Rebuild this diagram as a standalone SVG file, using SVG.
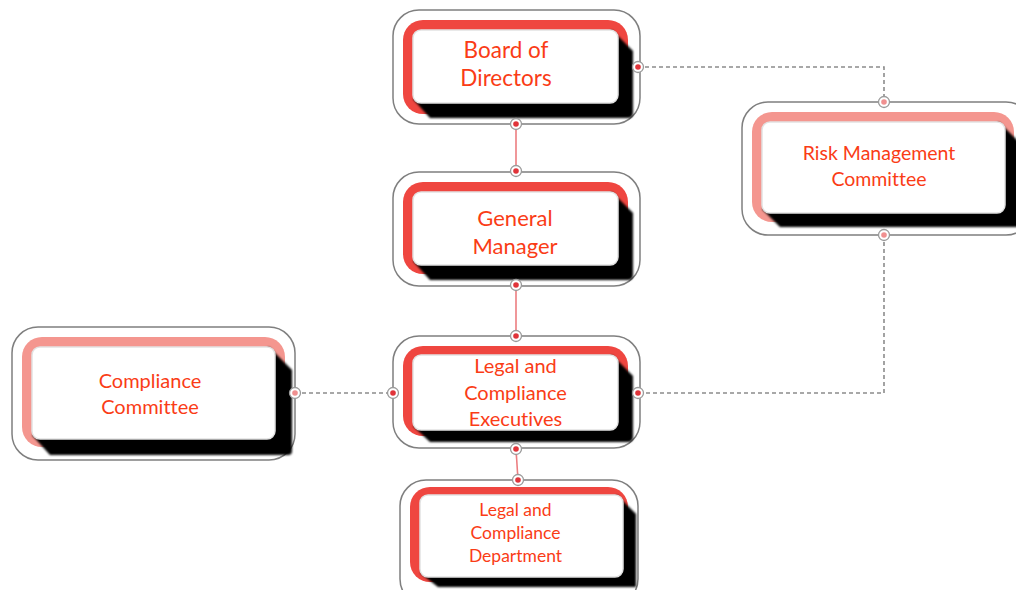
<svg xmlns="http://www.w3.org/2000/svg" width="1016" height="590" viewBox="0 0 1016 590">
<style>
.outer{fill:#fff;stroke:#7f7f7f;stroke-width:1.5}
.red{fill:#EF4640}
.pale{fill:#F4968F}
.shadow{fill:#000;filter:url(#soft)}
.inner{fill:#fff;stroke:#e2e2e2;stroke-width:1.5}
.t{font-family:Lato,"Liberation Sans",sans-serif;fill:#FA3C16;text-anchor:middle;font-variant-ligatures:none;font-feature-settings:"liga" 0,"clig" 0}
.solid{stroke:#EC7D80;stroke-width:1.6;fill:none}
.dash{stroke:#8c8c8c;stroke-width:1.6;fill:none;stroke-dasharray:4 3}
.dot{fill:#fff;stroke:#9a9a9a;stroke-width:1.3}
.dr{fill:#E0343A}
.dp{fill:#F09090}
</style>
<defs>
<filter id="soft" x="-5%" y="-5%" width="110%" height="110%"><feGaussianBlur stdDeviation="1.2"/></filter>
</defs>
<g id="connectors">
<line class="solid" x1="516" y1="124" x2="516" y2="171"/>
<line class="solid" x1="516" y1="285" x2="516" y2="336"/>
<line class="solid" x1="516" y1="449" x2="518" y2="480"/>
<polyline class="dash" points="638,67 884,67 884,102"/>
<polyline class="dash" points="884,235 884,393 638,393"/>
<line class="dash" x1="295" y1="393" x2="393" y2="393"/>
</g>
<g id="board">
<rect class="outer" x="393" y="10" width="247" height="114" rx="26"/>
<rect class="red" x="403" y="20" width="225" height="94" rx="20"/>
<path class="shadow" d="M612,30 L633,51 L633,113 Q633,118 628,118 L430,118 L413,99 Z"/>
<rect class="inner" x="413" y="30" width="205" height="73" rx="8"/>
<text class="t" font-size="22.5"><tspan x="506" y="58">Board of</tspan><tspan x="506" y="86">Directors</tspan></text>
</g>
<g id="gm">
<rect class="outer" x="393" y="172" width="247" height="114" rx="26"/>
<rect class="red" x="403" y="182" width="225" height="92" rx="20"/>
<path class="shadow" d="M612,192 L633,213 L633,275 Q633,280 628,280 L430,280 L413,261 Z"/>
<rect class="inner" x="413" y="192" width="205" height="73" rx="8"/>
<text class="t" font-size="22"><tspan x="515" y="226">General</tspan><tspan x="515" y="254">Manager</tspan></text>
</g>
<g id="lce">
<rect class="outer" x="393" y="336" width="247" height="112" rx="26"/>
<rect class="red" x="403" y="346" width="225" height="90" rx="20"/>
<path class="shadow" d="M612,355 L633,376 L633,437 Q633,442 628,442 L430,442 L413,426 Z"/>
<rect class="inner" x="413" y="355" width="205" height="75" rx="8"/>
<text class="t" font-size="20"><tspan x="515.5" y="373">Legal and</tspan><tspan x="515.5" y="400">Compliance</tspan><tspan x="515.5" y="426">Executives</tspan></text>
</g>
<g id="dept">
<rect class="outer" x="400" y="480" width="238" height="125" rx="26"/>
<rect class="red" x="410" y="487" width="218" height="95" rx="20"/>
<path class="shadow" d="M617,495 L636,514 L636,587 L438,587 L420,573 Z"/>
<rect class="inner" x="420" y="495" width="203" height="82" rx="8"/>
<text class="t" font-size="17.5"><tspan x="515.5" y="516">Legal and</tspan><tspan x="515.5" y="539">Compliance</tspan><tspan x="515.5" y="562">Department</tspan></text>
</g>
<g id="risk">
<rect class="outer" x="742" y="102" width="290" height="133" rx="26"/>
<rect class="pale" x="752" y="112" width="262" height="110" rx="20"/>
<path class="shadow" d="M999,122 L1020,143 L1020,227 L780,227 L762,209 Z"/>
<rect class="inner" x="762" y="122" width="243" height="91" rx="8"/>
<text class="t" font-size="19.5"><tspan x="879" y="160">Risk Management</tspan><tspan x="879" y="186">Committee</tspan></text>
</g>
<g id="cc">
<rect class="outer" x="12" y="327" width="283" height="133" rx="26"/>
<rect class="pale" x="22" y="337" width="263" height="110" rx="20"/>
<path class="shadow" d="M269,347 L292,370 L292,451 Q292,455 288,455 L50,455 L32,435 Z"/>
<rect class="inner" x="32" y="347" width="243" height="92" rx="8"/>
<text class="t" font-size="20"><tspan x="150" y="388">Compliance</tspan><tspan x="150" y="414">Committee</tspan></text>
</g>
<g id="ports">
<circle class="dot" cx="516" cy="124" r="5.5"/><circle class="dr" cx="516" cy="124" r="2.8"/>
<circle class="dot" cx="638" cy="67" r="5.5"/><circle class="dr" cx="638" cy="67" r="2.8"/>
<circle class="dot" cx="516" cy="171" r="5.5"/><circle class="dr" cx="516" cy="171" r="2.8"/>
<circle class="dot" cx="516" cy="285" r="5.5"/><circle class="dr" cx="516" cy="285" r="2.8"/>
<circle class="dot" cx="516" cy="336" r="5.5"/><circle class="dr" cx="516" cy="336" r="2.8"/>
<circle class="dot" cx="393" cy="393" r="5.5"/><circle class="dr" cx="393" cy="393" r="2.8"/>
<circle class="dot" cx="638" cy="393" r="5.5"/><circle class="dr" cx="638" cy="393" r="2.8"/>
<circle class="dot" cx="516" cy="449" r="5.5"/><circle class="dr" cx="516" cy="449" r="2.8"/>
<circle class="dot" cx="518" cy="480" r="5.5"/><circle class="dr" cx="518" cy="480" r="2.8"/>
<circle class="dot" cx="884" cy="102" r="5.5"/><circle class="dp" cx="884" cy="102" r="2.8"/>
<circle class="dot" cx="884" cy="235" r="5.5"/><circle class="dp" cx="884" cy="235" r="2.8"/>
<circle class="dot" cx="295" cy="393" r="5.5"/><circle class="dp" cx="295" cy="393" r="2.8"/>
</g>
</svg>
